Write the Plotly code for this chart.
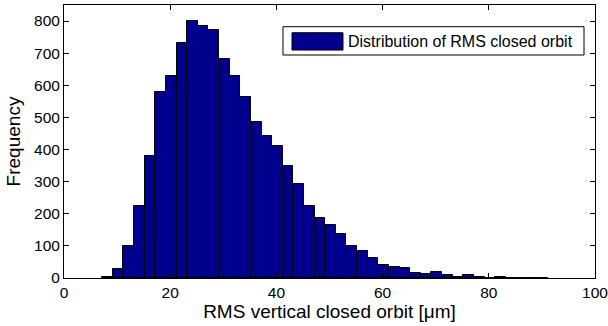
import plotly.graph_objects as go

# Histogram bin centres (µm) and counts
bin_centers = [8.2 + 2 * k for k in range(42)]
counts = [3, 27, 100, 225, 381, 578, 630, 731, 800, 785, 773, 682, 628, 565,
          486, 443, 411, 349, 293, 223, 188, 165, 136, 100, 83, 62, 41, 34,
          30, 15, 13, 18, 8, 4, 8, 2, 0, 2, 0, 1, 1, 1]
x_ticks = [0, 20, 40, 60, 80, 100]
y_ticks = [0, 100, 200, 300, 400, 500, 600, 700, 800]
legend_label = "Distribution of RMS closed orbit"

FONT = "Liberation Sans, Arial, sans-serif"
NAVY = "#00008F"

fig = go.Figure()
fig.add_trace(go.Bar(
    x=bin_centers, y=counts, width=2,
    marker=dict(color=NAVY, line=dict(color="black", width=1)),
    showlegend=False,
))

axis_common = dict(
    showline=True, linecolor="black", linewidth=1, mirror="ticks",
    ticks="inside", ticklen=5, tickcolor="black", showgrid=False,
    zeroline=False, tickfont=dict(family=FONT, size=15.5, color="black"),
    ticklabeloverflow="allow", automargin=False,
)

fig.update_layout(
    width=608, height=326,
    margin=dict(l=64, r=13, t=5, b=48),
    paper_bgcolor="white", plot_bgcolor="white",
    bargap=0,
    font=dict(family=FONT, color="black"),
    xaxis=dict(range=[0, 100], tickvals=x_ticks,
               title=dict(text="RMS vertical closed orbit [μm]",
                          font=dict(family=FONT, size=19), standoff=2),
               **axis_common),
    yaxis=dict(range=[0, 850], tickvals=y_ticks,
               title=dict(text="Frequency", font=dict(family=FONT, size=19),
                          standoff=8),
               **axis_common),
    shapes=[
        dict(type="rect", xref="paper", yref="paper",
             x0=0.4124, x1=0.9793, y0=0.8168, y1=0.9205,
             line=dict(color="black", width=1), fillcolor="white"),
        dict(type="rect", xref="paper", yref="paper",
             x0=0.4294, x1=0.5254, y0=0.835, y1=0.8985,
             line=dict(color="black", width=1), fillcolor=NAVY),
    ],
    annotations=[
        dict(text=legend_label, xref="paper", yref="paper",
             x=0.531, y=0.868, xanchor="left", yanchor="middle",
             showarrow=False, font=dict(family=FONT, size=16, color="black")),
    ],
)

fig.write_html("out.html")
